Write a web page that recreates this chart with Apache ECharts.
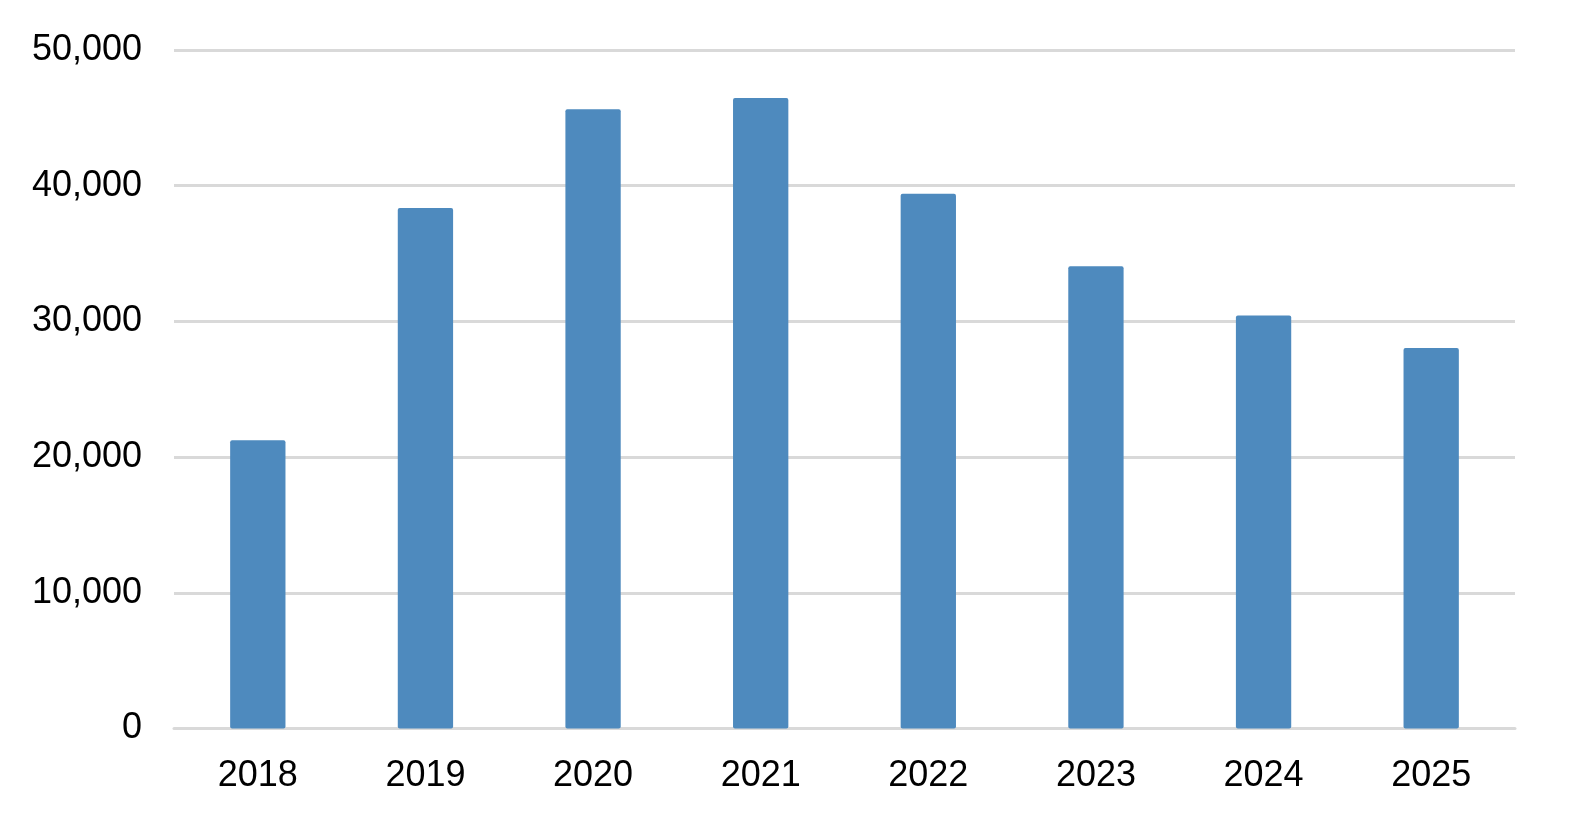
<!DOCTYPE html>
<html>
<head>
<meta charset="utf-8">
<script src="https://cdn.jsdelivr.net/npm/echarts@6/dist/echarts.min.js"></script>
<style>html,body{margin:0;padding:0;background:#fff}#c{width:1569px;height:824px}</style>
</head>
<body>
<div id="c"></div>
<script>
const categories = ['2018','2019','2020','2021','2022','2023','2024','2025'];
const values = [21250, 38350, 45630, 46470, 39400, 34060, 30440, 28040];
const yTicks = {min: 0, max: 50000, interval: 10000};

const chart = echarts.init(document.getElementById('c'));
chart.setOption({
  animation: false,
  backgroundColor: '#ffffff',
  grid: {left: 174, right: 54, top: 50, bottom: 95.5, containLabel: false},
  xAxis: {
    type: 'category',
    data: categories,
    axisLine: {show: true, lineStyle: {color: '#D9D9D9', width: 3}},
    axisTick: {show: false},
    axisLabel: {color: '#000', fontSize: 36, fontFamily: 'Liberation Sans, Arial, sans-serif', margin: 30}
  },
  yAxis: {
    type: 'value',
    min: yTicks.min, max: yTicks.max, interval: yTicks.interval,
    axisLine: {show: false},
    axisTick: {show: false},
    splitLine: {lineStyle: {color: '#D9D9D9', width: 3}},
    axisLabel: {color: '#000', fontSize: 36, fontFamily: 'Liberation Sans, Arial, sans-serif', margin: 32,
      formatter: v => v.toLocaleString('en-US')}
  },
  series: [{
    type: 'bar',
    data: values,
    barWidth: '33%',
    itemStyle: {color: '#4E8ABE', borderRadius: 2}
  }]
});
</script>
</body>
</html>
